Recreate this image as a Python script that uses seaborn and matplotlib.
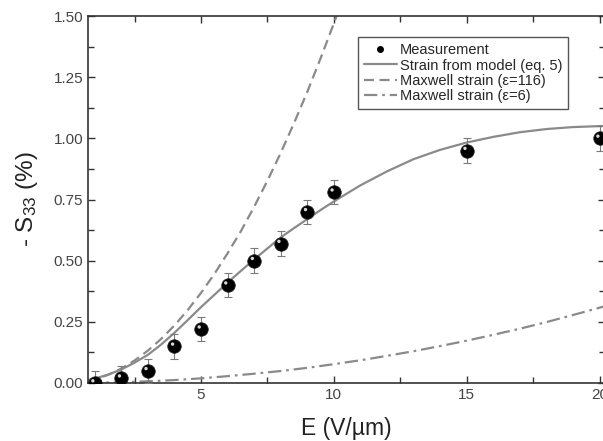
import numpy as np
import matplotlib
matplotlib.use("Agg")
import matplotlib.pyplot as plt
import matplotlib.transforms as mtransforms
from matplotlib.ticker import MultipleLocator
import seaborn as sns

# measured points
E_meas = [1, 2, 3, 4, 5, 6, 7, 8, 9, 10, 15, 20]
S_meas = [0.0, 0.02, 0.05, 0.15, 0.22, 0.40, 0.50, 0.57, 0.70, 0.78, 0.95, 1.00]
S_err = [0.05, 0.05, 0.05, 0.05, 0.05, 0.05, 0.05, 0.05, 0.05, 0.05, 0.05, 0.05]

# strain from model (eq. 5)
E_model = [0.75, 1, 1.5, 2, 2.5, 3, 3.5, 4, 4.5, 5, 5.5, 6, 6.5, 7, 7.5, 8, 8.5, 9, 9.5, 10,
           11, 12, 13, 14, 15, 16, 17, 18, 19, 20, 20.3]
S_model = [0.012, 0.018, 0.034, 0.055, 0.083, 0.115, 0.157, 0.205, 0.257, 0.31, 0.36, 0.41,
           0.458, 0.505, 0.55, 0.595, 0.633, 0.67, 0.707, 0.742, 0.808, 0.865, 0.915, 0.953,
           0.983, 1.006, 1.025, 1.038, 1.046, 1.05, 1.051]

# Maxwell strain, eps = 116
E_mx116 = [0.75, 1, 1.5, 2, 2.5, 3, 3.5, 4, 4.5, 5, 5.5, 6, 6.5, 7, 7.5, 8, 8.5, 9, 9.5, 10, 10.3]
S_mx116 = [0.008, 0.015, 0.033, 0.059, 0.092, 0.132, 0.18, 0.235, 0.298, 0.368, 0.445, 0.53,
           0.62, 0.72, 0.827, 0.94, 1.062, 1.19, 1.327, 1.47, 1.56]

# Maxwell strain, eps = 6
E_mx6 = [0.75, 2, 3, 4, 5, 6, 7, 8, 9, 10, 11, 12, 13, 14, 15, 16, 17, 18, 19, 20, 20.3]
S_mx6 = [0.0005, 0.003, 0.007, 0.012, 0.019, 0.028, 0.038, 0.049, 0.062, 0.077, 0.093, 0.111,
         0.13, 0.151, 0.173, 0.197, 0.222, 0.249, 0.278, 0.308, 0.317]

XTICKS = [5, 10, 15, 20]
YTICKS = [0.0, 0.25, 0.5, 0.75, 1.0, 1.25, 1.5]

sns.set_style("ticks")
plt.rcParams["font.family"] = ["Liberation Sans", "DejaVu Sans"]
plt.rcParams["mathtext.fontset"] = "custom"
plt.rcParams["mathtext.rm"] = "Liberation Sans"
plt.rcParams["mathtext.it"] = "Liberation Sans:italic"

fig = plt.figure(figsize=(6.03, 4.41), dpi=100)
ax = fig.add_axes([88 / 603, 58 / 441, 517 / 603, 367 / 441])

line_col = "#8a8a8a"

sns.lineplot(x=E_model, y=S_model, ax=ax, color=line_col, lw=1.6, sort=False,
             label="Strain from model (eq. 5)")
sns.lineplot(x=E_mx116, y=S_mx116, ax=ax, color=line_col, lw=1.6, sort=False,
             dashes=False, label="Maxwell strain (\u03b5=116)")
sns.lineplot(x=E_mx6, y=S_mx6, ax=ax, color=line_col, lw=1.6, sort=False,
             label="Maxwell strain (\u03b5=6)")
lines = ax.get_lines()
lines[1].set_dashes((4.5, 2.5))
lines[2].set_dashes((6, 2.2, 1.2, 2.2))

ax.errorbar(E_meas, S_meas, yerr=S_err, fmt="none", ecolor="#7a7a7a", elinewidth=0.8,
            capsize=3, capthick=0.8, zorder=3)
sns.scatterplot(x=E_meas, y=S_meas, ax=ax, color="black", s=95, edgecolor="#222222",
                linewidth=0.5, zorder=4, legend=False)
# little highlight on each sphere
hl = mtransforms.offset_copy(ax.transData, fig=fig, x=-1.8, y=2.2, units="dots")
ax.scatter(E_meas, S_meas, s=6, color="#d8d8d8", edgecolor="none", zorder=5, transform=hl)

# legend with a small dot for the measurements
h, l = ax.get_legend_handles_labels()
dot = plt.Line2D([], [], ls="none", marker="o", ms=4, color="black")
leg = ax.legend([dot] + h, ["Measurement"] + l, loc="upper left",
                bbox_to_anchor=(0.522, 0.942), borderaxespad=0, fontsize=10.5,
                handlelength=2.3, handletextpad=0.2, labelspacing=0.1,
                fancybox=False, framealpha=1, edgecolor="#555555", borderpad=0.4)
leg.get_frame().set_linewidth(1.0)

ax.set_xlim(0.75, 20.2)
ax.set_ylim(0, 1.5)
ax.set_xticks(XTICKS)
ax.set_yticks(YTICKS)
ax.set_yticklabels([f"{v:.2f}" for v in YTICKS])
ax.xaxis.set_minor_locator(MultipleLocator(2.5))
ax.yaxis.set_minor_locator(MultipleLocator(0.125))
ax.tick_params(which="both", direction="in", top=True, right=True, colors="#333333",
               labelcolor="#444444", labelsize=11, width=1.0)
ax.tick_params(which="major", length=5)
ax.tick_params(which="minor", length=4)
for sp in ax.spines.values():
    sp.set_color("#333333")
    sp.set_linewidth(1.2)

ax.set_xlabel("E (V/\u00b5m)", fontsize=16.5, color="#222222", labelpad=11)
ax.set_ylabel(r"- S$_{33}$ (%)", fontsize=17.5, color="#222222", labelpad=10)

fig.savefig("out.png", dpi=100)
